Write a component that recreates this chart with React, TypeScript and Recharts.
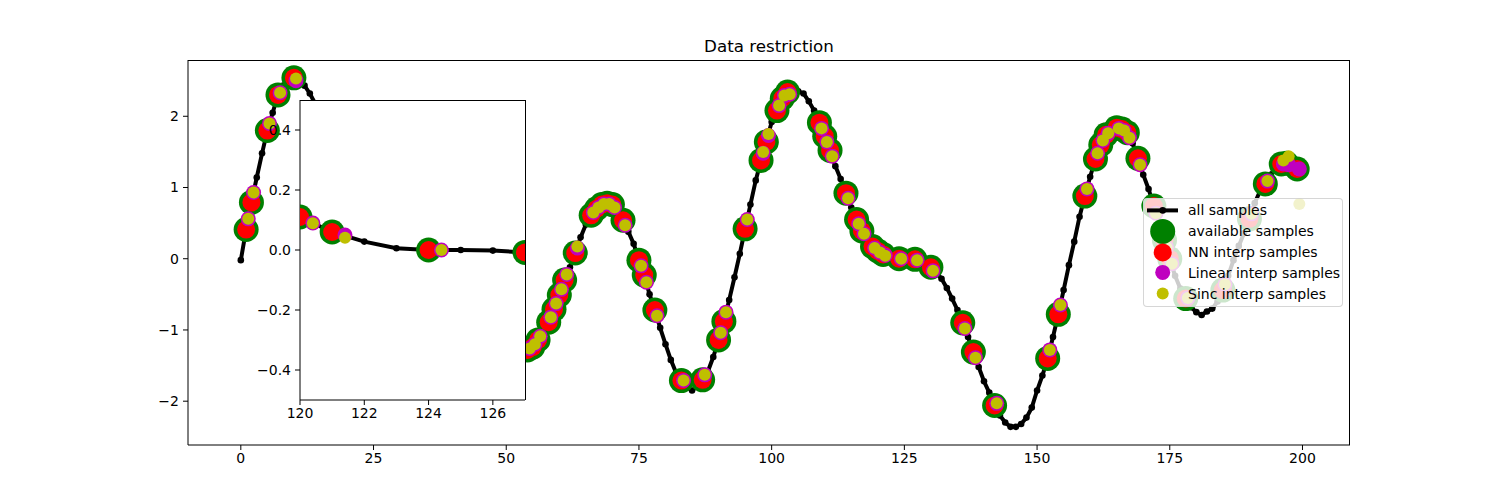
import React from 'react';
import { ComposedChart, Scatter, XAxis, YAxis, Legend } from 'recharts';

// every sample of the signal, x = 0..199
const allY = [
  -0.02, 0.41, 0.79, 1.14, 1.48, 1.8, 2.05, 2.3, 2.43, 2.51,
  2.54, 2.51, 2.43, 2.32, 2.18, 2.02, 1.83, 1.62, 1.4, 1.18,
  0.96, 0.75, 0.56, 0.4, 0.27, 0.17, 0.1, 0.05, 0.02, -0.01,
  -0.05, -0.1, -0.17, -0.26, -0.36, -0.47, -0.58, -0.68, -0.77, -0.84,
  -0.89, -0.92, -0.93, -0.93, -0.94, -0.97, -1.01, -1.06, -1.12, -1.18,
  -1.23, -1.27, -1.3, -1.3, -1.28, -1.24, -1.14, -1.02, -0.89, -0.71,
  -0.51, -0.3, -0.12, 0.08, 0.3, 0.48, 0.61, 0.7, 0.76, 0.78,
  0.76, 0.67, 0.54, 0.38, 0.21, -0.02, -0.23, -0.5, -0.72, -0.97,
  -1.2, -1.42, -1.6, -1.71, -1.8, -1.85, -1.79, -1.7, -1.58, -1.38,
  -1.14, -0.88, -0.58, -0.26, 0.07, 0.42, 0.76, 1.1, 1.38, 1.64,
  1.92, 2.08, 2.25, 2.34, 2.37, 2.35, 2.32, 2.21, 2.08, 1.91,
  1.72, 1.52, 1.3, 1.12, 0.92, 0.72, 0.55, 0.39, 0.27, 0.17,
  0.11, 0.06, 0.028, 0.006, 0.0, 0.0, -0.002, -0.008, -0.03, -0.07,
  -0.12, -0.19, -0.28, -0.41, -0.56, -0.72, -0.9, -1.1, -1.31, -1.52,
  -1.72, -1.88, -2.06, -2.2, -2.3, -2.36, -2.36, -2.32, -2.23, -2.09,
  -1.85, -1.64, -1.4, -1.1, -0.78, -0.44, -0.09, 0.24, 0.59, 0.88,
  1.15, 1.4, 1.6, 1.74, 1.81, 1.84, 1.82, 1.77, 1.62, 1.41,
  1.18, 0.98, 0.74, 0.5, 0.26, 0.0, -0.24, -0.42, -0.56, -0.68,
  -0.75, -0.79, -0.74, -0.7, -0.6, -0.44, -0.24, -0.02, 0.18, 0.36,
  0.56, 0.78, 0.95, 1.05, 1.18, 1.29, 1.33, 1.34, 1.3, 1.26,
];

// indices of the samples that are kept
const availableX = [
  1, 2, 5, 7, 10, 54, 55, 56, 58, 59, 60, 61, 63, 66, 67, 68, 69, 70, 72, 75,
  76, 78, 83, 87, 90, 91, 95, 98, 99, 101, 102, 103, 109, 110, 111, 114, 116, 117, 119, 120,
  121, 124, 127, 130, 136, 138, 142, 152, 154, 159, 161, 162, 163, 165, 166, 167, 169, 172, 174, 175,
  178, 185, 190, 193, 196, 197, 199,
];

// positions where the signal is re-sampled
const interpX = [
  1.4, 2.4, 5.4, 7.4, 10.4, 54.4, 55.4, 56.4, 58.4, 59.4, 60.4, 61.4, 63.4, 66.4, 67.4, 68.4, 69.4, 70.4, 72.4, 75.4,
  76.4, 78.4, 83.4, 87.4, 90.4, 91.4, 95.4, 98.4, 99.4, 101.4, 102.4, 103.4, 109.4, 110.4, 111.4, 114.4, 116.4, 117.4, 119.4, 120.4,
  121.4, 124.4, 127.4, 130.4, 136.4, 138.4, 142.4, 152.4, 154.4, 159.4, 161.4, 162.4, 163.4, 165.4, 166.4, 167.4, 169.4, 172.4, 174.4, 175.4,
  178.4, 185.4, 190.4, 193.4, 196.4, 197.4, 199.4,
];

const linearY = [
  0.56, 0.93, 1.9, 2.33, 2.5, -1.26, -1.2, -1.09, -0.82, -0.63, -0.43, -0.22, 0.15, 0.65, 0.72, 0.77, 0.77, 0.72, 0.47, -0.1,
  -0.33, -0.8, -1.71, -1.63, -1.04, -0.75, 0.55, 1.48, 1.73, 2.15, 2.29, 2.31, 1.83, 1.64, 1.44, 0.85, 0.49, 0.35, 0.15, 0.09,
  0.05, 0.0, -0.02, -0.17, -0.98, -1.39, -2.03, -1.28, -0.65, 0.98, 1.48, 1.66, 1.76, 1.83, 1.8, 1.7, 1.32, 0.64, 0.16, -0.07,
  -0.55, -0.36, 0.63, 1.09, 1.33, 1.32, 1.26,
];

const sincY = [
  0.56, 0.93, 1.9, 2.33, 2.53, -1.26, -1.2, -1.09, -0.82, -0.63, -0.43, -0.22, 0.17, 0.65, 0.72, 0.77, 0.77, 0.72, 0.47, -0.1,
  -0.33, -0.8, -1.71, -1.63, -1.04, -0.75, 0.55, 1.5, 1.75, 2.15, 2.29, 2.31, 1.83, 1.64, 1.44, 0.85, 0.49, 0.35, 0.15, 0.089,
  0.041, 0.0, -0.02, -0.17, -0.98, -1.39, -2.03, -1.28, -0.65, 0.98, 1.48, 1.66, 1.76, 1.83, 1.8, 1.7, 1.32, 0.64, 0.16, -0.07,
  -0.55, -0.36, 0.63, 1.09, 1.38, 1.44, 0.77,
];

const xTicks = [0, 25, 50, 75, 100, 125, 150, 175, 200];
const yTicks = [-2, -1, 0, 1, 2];
const insetXTicks = [120, 122, 124, 126];
const insetYTicks = [-0.4, -0.2, 0, 0.2, 0.4];
const legendLabels = ['all samples', 'available samples', 'NN interp samples', 'Linear interp samples', 'Sinc interp samples'];

const allSamples = allY.map((y, x) => ({ x, y }));
const availableSamples = availableX.map(x => ({ x, y: allY[x] }));
const nnSamples = availableX.map(x => ({ x, y: allY[x] }));
const linearSamples = interpX.map((x, i) => ({ x, y: linearY[i] }));
const sincSamples = interpX.map((x, i) => ({ x, y: sincY[i] }));

const FONT = 'DejaVu Sans';
const tickStyle = { fill: '#000', fontSize: 14, fontFamily: FONT };
const minus = (v: number) => String(v).replace('-', '\u2212');
const minus1 = (v: number) => v.toFixed(1).replace('-', '\u2212');

const dot = (r: number, fill: string) => (props: any) =>
  props.cx == null ? <g /> : <circle cx={props.cx} cy={props.cy} r={r} fill={fill} />;

const legendHandles = [
  { r: 3.3, color: '#000', line: true },
  { r: 12.5, color: '#008000' },
  { r: 9, color: '#ff0000' },
  { r: 7.5, color: '#bf00bf' },
  { r: 6, color: '#bfbf00' },
];

const renderLegend = () => (
  <div
    style={{
      boxSizing: 'border-box',
      width: 200,
      height: 109,
      background: 'rgba(255,255,255,0.8)',
      border: '1px solid rgba(204,204,204,0.8)',
      borderRadius: 4,
      paddingTop: 1,
      fontFamily: FONT,
      fontSize: 14,
      color: '#000',
    }}
  >
    {legendLabels.map((label, i) => {
      const h = legendHandles[i];
      return (
        <div key={label} style={{ display: 'flex', alignItems: 'center', height: 20.8 }}>
          <svg width={44} height={20.8} style={{ flex: 'none', overflow: 'visible' }}>
            {h.line && <line x1={3} x2={34} y1={10.4} y2={10.4} stroke="#000" strokeWidth={4} />}
            <circle cx={18.7} cy={10.4} r={h.r} fill={h.color} />
          </svg>
          <span style={{ whiteSpace: 'nowrap' }}>{label}</span>
        </div>
      );
    })}
  </div>
);

const renderSeries = (filter?: (p: { x: number }) => boolean) => {
  const f = (arr: { x: number; y: number }[]) => (filter ? arr.filter(filter) : arr);
  return [
    <Scatter key="all" name="all samples" data={f(allSamples)} line={{ stroke: '#000', strokeWidth: 4 }}
      shape={dot(3.3, '#000')} isAnimationActive={false} />,
    <Scatter key="avail" name="available samples" data={f(availableSamples)} shape={dot(12.5, '#008000')} isAnimationActive={false} />,
    <Scatter key="nn" name="NN interp samples" data={f(nnSamples)} shape={dot(9, '#ff0000')} isAnimationActive={false} />,
    <Scatter key="lin" name="Linear interp samples" data={f(linearSamples)} shape={dot(7.5, '#bf00bf')} isAnimationActive={false} />,
    <Scatter key="sinc" name="Sinc interp samples" data={f(sincSamples)} shape={dot(6, '#bfbf00')} isAnimationActive={false} />,
  ];
};

const X_DOMAIN: [number, number] = [-9.95, 208.95];
const Y_DOMAIN: [number, number] = [-2.615, 2.79];

// top and right spines (matplotlib draws a closed box round each axes)
const frame = (left: number, top: number, width: number, height: number) => (
  <div
    style={{
      position: 'absolute', left, top, width, height, boxSizing: 'border-box',
      borderTop: '1px solid #000', borderRight: '1px solid #000', pointerEvents: 'none',
    }}
  />
);

export default function App() {
  return (
    <div style={{ position: 'absolute', left: 0, top: 0, width: 1500, height: 500, background: '#fff' }}>
      <div
        style={{
          position: 'absolute', left: 188, width: 1162, top: 36, lineHeight: '20px',
          textAlign: 'center', fontFamily: FONT, fontSize: 16.7, color: '#000',
        }}
      >
        Data restriction
      </div>

      <ComposedChart width={1500} height={500} margin={{ top: 60, right: 150, bottom: 25, left: 148 }}>
        <XAxis dataKey="x" type="number" domain={X_DOMAIN} ticks={xTicks} allowDataOverflow height={30}
          tickSize={5} tickMargin={3} stroke="#000" tick={tickStyle} tickFormatter={minus} />
        <YAxis dataKey="y" type="number" domain={Y_DOMAIN} ticks={yTicks} allowDataOverflow width={40}
          tickSize={5} tickMargin={4} stroke="#000" tick={tickStyle} tickFormatter={minus} />
        {renderSeries()}
        <Legend layout="horizontal" verticalAlign="middle" align="center" content={renderLegend}
          wrapperStyle={{ left: 1143, top: 198, width: 200, height: 109 }} />
      </ComposedChart>
      {frame(188, 60, 1162, 385)}

      {/* inset */}
      <div style={{ position: 'absolute', left: 300, top: 100, width: 225, height: 300, background: '#fff' }} />
      <div style={{ position: 'absolute', left: 250, top: 90 }}>
        <ComposedChart width={285} height={340} margin={{ top: 10, right: 10, bottom: 0, left: 0 }}>
          <XAxis dataKey="x" type="number" domain={[120, 127]} ticks={insetXTicks} allowDataOverflow height={30}
            tickSize={5} tickMargin={3} stroke="#000" tick={tickStyle} />
          <YAxis dataKey="y" type="number" domain={[-0.5, 0.5]} ticks={insetYTicks} allowDataOverflow width={50}
            tickSize={5} tickMargin={4} stroke="#000" tick={tickStyle} tickFormatter={minus1} />
          {renderSeries(p => p.x >= 117 && p.x <= 130)}
        </ComposedChart>
      </div>
      {frame(300, 100, 225.5, 300)}
    </div>
  );
}
